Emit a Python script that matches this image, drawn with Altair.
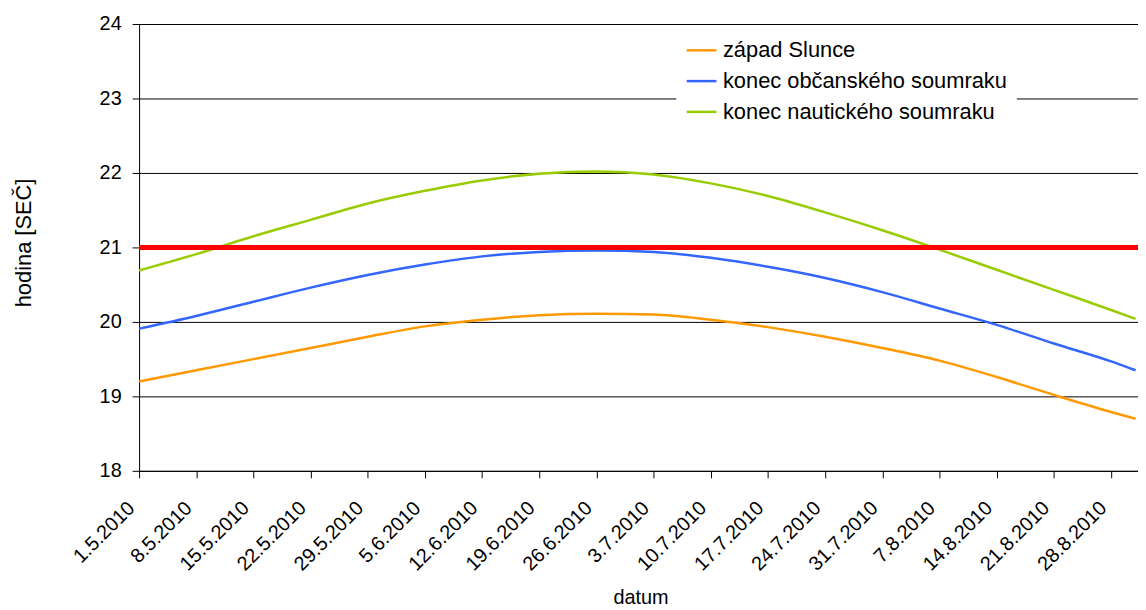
import altair as alt
import pandas as pd

# dates of the readings (day.month.year)
dates = ["1.5.2010", "8.5.2010", "15.5.2010", "22.5.2010", "29.5.2010", "5.6.2010",
         "12.6.2010", "19.6.2010", "26.6.2010", "3.7.2010", "10.7.2010", "17.7.2010",
         "24.7.2010", "31.7.2010", "7.8.2010", "14.8.2010", "21.8.2010", "28.8.2010",
         "31.8.2010"]
tick_labels = ["1.5.2010", "8.5.2010", "15.5.2010", "22.5.2010", "29.5.2010", "5.6.2010",
               "12.6.2010", "19.6.2010", "26.6.2010", "3.7.2010", "10.7.2010", "17.7.2010",
               "24.7.2010", "31.7.2010", "7.8.2010", "14.8.2010", "21.8.2010", "28.8.2010"]

zapad = [19.20, 19.35, 19.50, 19.65, 19.80, 19.94, 20.03, 20.09, 20.11, 20.10,
         20.03, 19.93, 19.80, 19.65, 19.48, 19.26, 19.02, 18.79, 18.70]
obcansky = [19.91, 20.08, 20.27, 20.46, 20.63, 20.77, 20.88, 20.94, 20.96, 20.94,
            20.86, 20.74, 20.59, 20.40, 20.18, 19.96, 19.71, 19.47, 19.35]
nauticky = [20.69, 20.91, 21.15, 21.37, 21.59, 21.76, 21.90, 21.99, 22.02, 21.98,
            21.86, 21.69, 21.47, 21.23, 20.97, 20.70, 20.43, 20.16, 20.04]

series_names = ["západ Slunce", "konec občanského soumraku", "konec nautického soumraku"]
colors = ["#FF9900", "#3366FF", "#99CC00"]
limit_hour = 21


def day_index(s):
    d, m, y = map(int, s.split("."))
    return (pd.Timestamp(y, m, d) - pd.Timestamp(2010, 5, 1)).days


days = [day_index(s) for s in dates]
tick_days = [day_index(s) for s in tick_labels]

rows = []
for name, vals in zip(series_names, [zapad, obcansky, nauticky]):
    for dd, ds, v in zip(days, dates, vals):
        rows.append({"day": dd, "datum": ds, "hodina": v, "serie": name})
df = pd.DataFrame(rows)

label_array = "[" + ",".join("'" + t + "'" for t in tick_labels) + "]"
FONT = "Liberation Sans"

x_enc = alt.X(
    "day:Q",
    scale=alt.Scale(domain=[0, 122.3], nice=False, zero=False),
    axis=alt.Axis(
        values=tick_days,
        labelExpr=label_array + "[round(datum.value / 7)]",
        labelAngle=-45, labelAlign="right", labelBaseline="middle",
        labelFontSize=20, labelFont=FONT, labelColor="black",
        labelPadding=27, labelOffset=-8, labelOverlap=False, labelLimit=300,
        tickSize=7, tickColor="black", domainColor="black",
        grid=False, title="datum", titleFont=FONT, titleFontSize=20,
        titleFontWeight="normal", titleColor="black",
        titleX=505, titleY=128, titleAlign="center", titleBaseline="middle",
    ),
)

y_enc = alt.Y(
    "hodina:Q",
    scale=alt.Scale(domain=[18, 24], nice=False, zero=False),
    axis=alt.Axis(
        values=[18, 19, 20, 21, 22, 23, 24], format="d",
        labelFontSize=20, labelFont=FONT, labelColor="black", labelPadding=11,
        tickSize=7, tickColor="black", domainColor="black",
        grid=True, gridColor="black", gridWidth=1, gridOpacity=1,
        title="hodina [SEČ]", titleFont=FONT, titleFontSize=22,
        titleFontWeight="normal", titleColor="black",
        titleX=-116, titleY=220, titleAlign="center", titleBaseline="middle",
    ),
)

lines = alt.Chart(df).mark_line(strokeWidth=2.5, interpolate="monotone").encode(
    x=x_enc,
    y=y_enc,
    color=alt.Color(
        "serie:N",
        scale=alt.Scale(domain=series_names, range=colors),
        legend=alt.Legend(
            orient="none", legendX=541, legendY=1, title=None,
            fillColor="white", padding=9, symbolType="stroke", symbolSize=900,
            symbolStrokeWidth=2.5, labelFont=FONT, labelFontSize=22,
            labelColor="black", labelOffset=5, rowPadding=3, labelLimit=500,
        ),
    ),
    order=alt.Order("day:Q"),
)

rule = alt.Chart(pd.DataFrame({"hodina": [limit_hour]})).mark_rule(
    color="#FF0000", strokeWidth=5
).encode(y=alt.Y("hodina:Q"))

chart = alt.layer(lines, rule).properties(
    width=1006,
    height=450,
    autosize=alt.AutoSizeParams(type="none"),
    padding={"left": 132, "top": 14, "right": 0, "bottom": 136},
).configure_view(stroke=None).configure(background="white")

chart.save("out.html", embed_options={"renderer": "svg", "actions": False})
